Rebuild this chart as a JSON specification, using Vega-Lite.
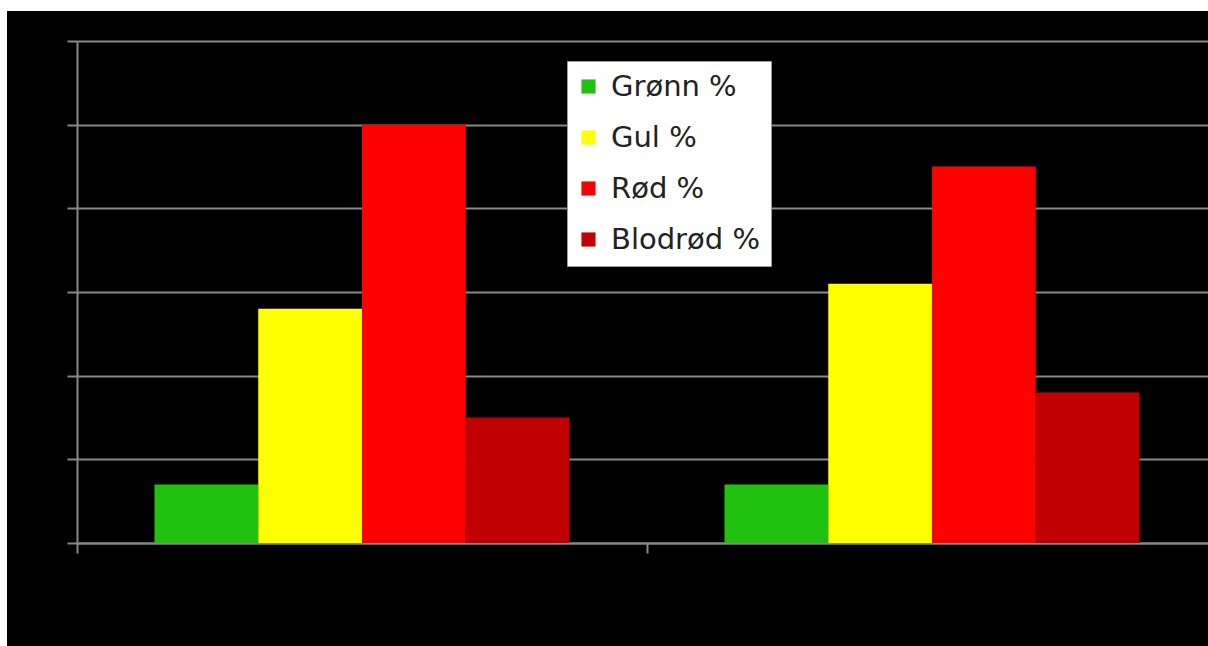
{
  "$schema": "https://vega.github.io/schema/vega-lite/v6.json",
  "autosize": "none",
  "width": 1201,
  "height": 635,
  "padding": {"left": 7, "top": 11, "right": 0, "bottom": 0},
  "background": "white",
  "view": {"fill": "black", "stroke": null},
  "data": {
    "values": [
      {"gruppe": "Gruppe 1", "serie": "Grønn %", "verdi": 7},
      {"gruppe": "Gruppe 1", "serie": "Gul %", "verdi": 28},
      {"gruppe": "Gruppe 1", "serie": "Rød %", "verdi": 50},
      {"gruppe": "Gruppe 1", "serie": "Blodrød %", "verdi": 15},
      {"gruppe": "Gruppe 2", "serie": "Grønn %", "verdi": 7},
      {"gruppe": "Gruppe 2", "serie": "Gul %", "verdi": 31},
      {"gruppe": "Gruppe 2", "serie": "Rød %", "verdi": 45},
      {"gruppe": "Gruppe 2", "serie": "Blodrød %", "verdi": 18}
    ]
  },
  "mark": {"type": "bar", "clip": false},
  "encoding": {
    "x": {
      "field": "gruppe",
      "type": "nominal",
      "scale": {"range": [70, 1210], "paddingInner": 0, "paddingOuter": 0},
      "axis": {
        "title": null,
        "orient": "bottom",
        "offset": -103,
        "labels": false,
        "tickBand": "extent",
        "domainColor": "#888888",
        "domainWidth": 2,
        "tickColor": "#888888",
        "tickWidth": 2,
        "tickSize": 10,
        "grid": false
      }
    },
    "xOffset": {
      "field": "serie",
      "type": "nominal",
      "scale": {"domain": ["Grønn %", "Gul %", "Rød %", "Blodrød %"], "paddingInner": 0, "paddingOuter": 0.747}
    },
    "y": {
      "field": "verdi",
      "type": "quantitative",
      "scale": {"domain": [0, 60], "range": [532, 30], "nice": false, "zero": true},
      "axis": {
        "title": null,
        "offset": -70,
        "values": [0, 10, 20, 30, 40, 50, 60],
        "labels": false,
        "domainColor": "#888888",
        "domainWidth": 2,
        "tickColor": "#888888",
        "tickWidth": 2,
        "tickSize": 10,
        "grid": true,
        "gridColor": "#888888",
        "gridWidth": 2,
        "gridOpacity": 1
      }
    },
    "color": {
      "field": "serie",
      "type": "nominal",
      "scale": {
        "domain": ["Grønn %", "Gul %", "Rød %", "Blodrød %"],
        "range": ["#21c112", "#ffff00", "#ff0000", "#c00000"]
      },
      "legend": {
        "title": null,
        "orient": "none",
        "legendX": 560,
        "legendY": 50,
        "fillColor": "white",
        "strokeColor": "#999999",
        "padding": 11,
        "symbolType": "square",
        "symbolSize": 200,
        "symbolStrokeWidth": 0,
        "symbolOpacity": 1,
        "symbolOffset": -4,
        "labelFont": "DejaVu Sans",
        "labelFontSize": 29,
        "labelColor": "#222222",
        "labelOffset": 8,
        "labelLimit": 400,
        "rowPadding": 21
      }
    }
  }
}
